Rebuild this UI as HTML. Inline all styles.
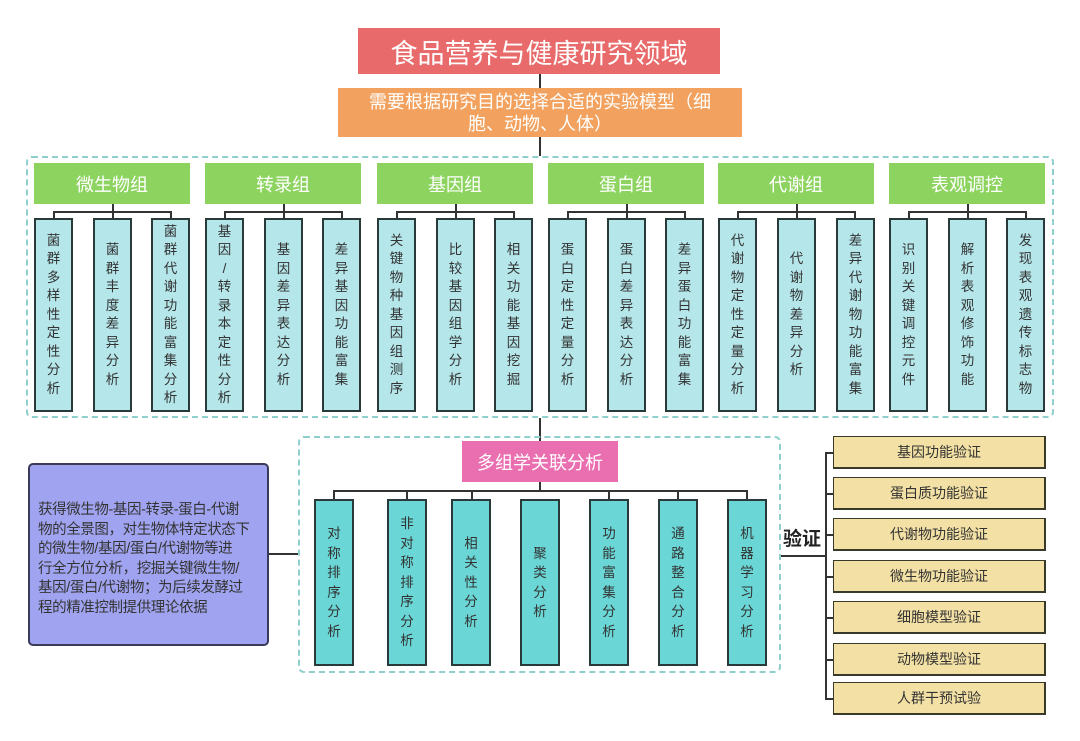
<!DOCTYPE html>
<html><head><meta charset="utf-8"><style>
*{margin:0;padding:0;box-sizing:border-box}
body{width:1080px;height:741px;background:#fff;position:relative;overflow:hidden;font-family:"Liberation Sans","Noto Sans CJK SC",sans-serif}
.a{position:absolute}
.c{display:flex;align-items:center;justify-content:center;text-align:center}
.v{position:absolute;border:2px solid #2a3a3a;display:flex;align-items:center;justify-content:center;color:#333;font-size:13.5px;line-height:18.5px}
.v span{width:14px;display:block;word-break:break-all;line-break:anywhere;text-align:center}
.t{background:#b5e6ea;top:218px;height:194px;width:39px}
.b{background:#6ad6d6;top:499px;height:167px;width:40px}
.b span{line-height:19.5px}
.g{background:#8dd35f;color:#fff;font-size:18px;top:163px;height:41px;width:156px}
.ln{position:absolute;background:#333}
.y{position:absolute;left:833px;width:213px;height:33px;background:#f3e0a4;border:2px solid #3a3a2a;border-width:1px 2px 2px 1px;font-size:14px;color:#333}
</style></head><body>
<div class="a c" style="left:358px;top:28px;width:362px;height:46px;background:#e86a6a;color:#fff;font-size:27px">食品营养与健康研究领域</div>
<div class="ln" style="left:539px;top:74px;width:1.5px;height:14px"></div>
<div class="a c" style="left:338px;top:88px;width:404px;height:49px;background:#f2a25e;color:#fff;font-size:18px;line-height:22px;padding:0 20px">需要根据研究目的选择合适的实验模型（细胞、动物、人体）</div>
<div class="ln" style="left:539px;top:137px;width:1.5px;height:19px"></div>
<div class="a" style="left:26px;top:156px;width:1028px;height:262px;border:2px dashed #8fd0cc;border-radius:6px"></div>

<div class="a c g" style="left:34px">微生物组</div>
<div class="a c g" style="left:205px">转录组</div>
<div class="a c g" style="left:377px">基因组</div>
<div class="a c g" style="left:548px">蛋白组</div>
<div class="a c g" style="left:718px">代谢组</div>
<div class="a c g" style="left:889px">表观调控</div>

<div class="ln" style="left:112px;top:204px;width:1.5px;height:8px"></div><div class="ln" style="left:53px;top:211px;width:118px;height:1.5px"></div>
<div class="ln" style="left:53px;top:211px;width:1.5px;height:7px"></div><div class="ln" style="left:112px;top:211px;width:1.5px;height:7px"></div><div class="ln" style="left:170px;top:211px;width:1.5px;height:7px"></div>
<div class="ln" style="left:283px;top:204px;width:1.5px;height:8px"></div><div class="ln" style="left:224px;top:211px;width:118px;height:1.5px"></div>
<div class="ln" style="left:224px;top:211px;width:1.5px;height:7px"></div><div class="ln" style="left:283px;top:211px;width:1.5px;height:7px"></div><div class="ln" style="left:341px;top:211px;width:1.5px;height:7px"></div>
<div class="ln" style="left:455px;top:204px;width:1.5px;height:8px"></div><div class="ln" style="left:396px;top:211px;width:118px;height:1.5px"></div>
<div class="ln" style="left:396px;top:211px;width:1.5px;height:7px"></div><div class="ln" style="left:455px;top:211px;width:1.5px;height:7px"></div><div class="ln" style="left:513px;top:211px;width:1.5px;height:7px"></div>
<div class="ln" style="left:626px;top:204px;width:1.5px;height:8px"></div><div class="ln" style="left:567px;top:211px;width:118px;height:1.5px"></div>
<div class="ln" style="left:567px;top:211px;width:1.5px;height:7px"></div><div class="ln" style="left:626px;top:211px;width:1.5px;height:7px"></div><div class="ln" style="left:684px;top:211px;width:1.5px;height:7px"></div>
<div class="ln" style="left:796px;top:204px;width:1.5px;height:8px"></div><div class="ln" style="left:737px;top:211px;width:118px;height:1.5px"></div>
<div class="ln" style="left:737px;top:211px;width:1.5px;height:7px"></div><div class="ln" style="left:796px;top:211px;width:1.5px;height:7px"></div><div class="ln" style="left:854px;top:211px;width:1.5px;height:7px"></div>
<div class="ln" style="left:967px;top:204px;width:1.5px;height:8px"></div><div class="ln" style="left:908px;top:211px;width:118px;height:1.5px"></div>
<div class="ln" style="left:908px;top:211px;width:1.5px;height:7px"></div><div class="ln" style="left:967px;top:211px;width:1.5px;height:7px"></div><div class="ln" style="left:1025px;top:211px;width:1.5px;height:7px"></div>

<div class="v t" style="left:34px"><span>菌群多样性定性分析</span></div>
<div class="v t" style="left:93px"><span>菌群丰度差异分析</span></div>
<div class="v t" style="left:151px"><span>菌群代谢功能富集分析</span></div>
<div class="v t" style="left:205px"><span>基<br>因<br>/<br>转<br>录<br>本<br>定<br>性<br>分<br>析</span></div>
<div class="v t" style="left:264px"><span>基因差异表达分析</span></div>
<div class="v t" style="left:322px"><span>差异基因功能富集</span></div>
<div class="v t" style="left:377px"><span>关键物种基因组测序</span></div>
<div class="v t" style="left:436px"><span>比较基因组学分析</span></div>
<div class="v t" style="left:494px"><span>相关功能基因挖掘</span></div>
<div class="v t" style="left:548px"><span>蛋白定性定量分析</span></div>
<div class="v t" style="left:607px"><span>蛋白差异表达分析</span></div>
<div class="v t" style="left:665px"><span>差异蛋白功能富集</span></div>
<div class="v t" style="left:718px"><span>代谢物定性定量分析</span></div>
<div class="v t" style="left:777px"><span>代谢物差异分析</span></div>
<div class="v t" style="left:836px"><span>差异代谢物功能富集</span></div>
<div class="v t" style="left:889px"><span>识别关键调控元件</span></div>
<div class="v t" style="left:948px"><span>解析表观修饰功能</span></div>
<div class="v t" style="left:1006px"><span>发现表观遗传标志物</span></div>

<div class="ln" style="left:539px;top:418px;width:1.5px;height:23px"></div>
<div class="a" style="left:298px;top:436px;width:483px;height:237px;border:2px dashed #8fd0cc;border-radius:6px"></div>
<div class="a c" style="left:462px;top:441px;width:156px;height:41px;background:#ea6fb0;color:#fff;font-size:18px">多组学关联分析</div>
<div class="ln" style="left:539px;top:482px;width:1.5px;height:9px"></div>
<div class="ln" style="left:333px;top:490px;width:414px;height:1.5px"></div>
<div class="ln" style="left:333px;top:490px;width:1.5px;height:9px"></div>
<div class="ln" style="left:406px;top:490px;width:1.5px;height:9px"></div>
<div class="ln" style="left:471px;top:490px;width:1.5px;height:9px"></div>
<div class="ln" style="left:608px;top:490px;width:1.5px;height:9px"></div>
<div class="ln" style="left:677px;top:490px;width:1.5px;height:9px"></div>
<div class="ln" style="left:746px;top:490px;width:1.5px;height:9px"></div>

<div class="v b" style="left:314px"><span>对称排序分析</span></div>
<div class="v b" style="left:387px"><span>非对称排序分析</span></div>
<div class="v b" style="left:451px"><span>相关性分析</span></div>
<div class="v b" style="left:520px"><span>聚类分析</span></div>
<div class="v b" style="left:589px"><span>功能富集分析</span></div>
<div class="v b" style="left:658px"><span>通路整合分析</span></div>
<div class="v b" style="left:727px"><span>机器学习分析</span></div>

<div class="a" style="left:28px;top:463px;width:241px;height:183px;background:#a0a4f0;border:2px solid #3a3a5a;border-radius:5px;padding:36px 0 0 8px;font-size:14.5px;line-height:19.5px;color:#333;letter-spacing:-0.4px;white-space:nowrap">获得微生物-基因-转录-蛋白-代谢<br>物的全景图，对生物体特定状态下<br>的微生物/基因/蛋白/代谢物等进<br>行全方位分析，挖掘关键微生物/<br>基因/蛋白/代谢物；为后续发酵过<br>程的精准控制提供理论依据</div>
<div class="ln" style="left:269px;top:553px;width:29px;height:2px"></div>

<div class="ln" style="left:781px;top:555px;width:45px;height:2px"></div>
<div class="a" style="left:783px;top:528px;font-size:19px;font-weight:bold;color:#222;background:#fff;line-height:24px">验证</div>
<div class="ln" style="left:825px;top:452px;width:1.5px;height:246px"></div>
<div class="ln" style="left:825px;top:452px;width:8px;height:1.5px"></div>
<div class="ln" style="left:825px;top:493px;width:8px;height:1.5px"></div>
<div class="ln" style="left:825px;top:534px;width:8px;height:1.5px"></div>
<div class="ln" style="left:825px;top:576px;width:8px;height:1.5px"></div>
<div class="ln" style="left:825px;top:617px;width:8px;height:1.5px"></div>
<div class="ln" style="left:825px;top:659px;width:8px;height:1.5px"></div>
<div class="ln" style="left:825px;top:698px;width:8px;height:1.5px"></div>
<div class="y c" style="top:436px">基因功能验证</div>
<div class="y c" style="top:477px">蛋白质功能验证</div>
<div class="y c" style="top:518px">代谢物功能验证</div>
<div class="y c" style="top:560px">微生物功能验证</div>
<div class="y c" style="top:601px">细胞模型验证</div>
<div class="y c" style="top:643px">动物模型验证</div>
<div class="y c" style="top:682px">人群干预试验</div>
</body></html>
